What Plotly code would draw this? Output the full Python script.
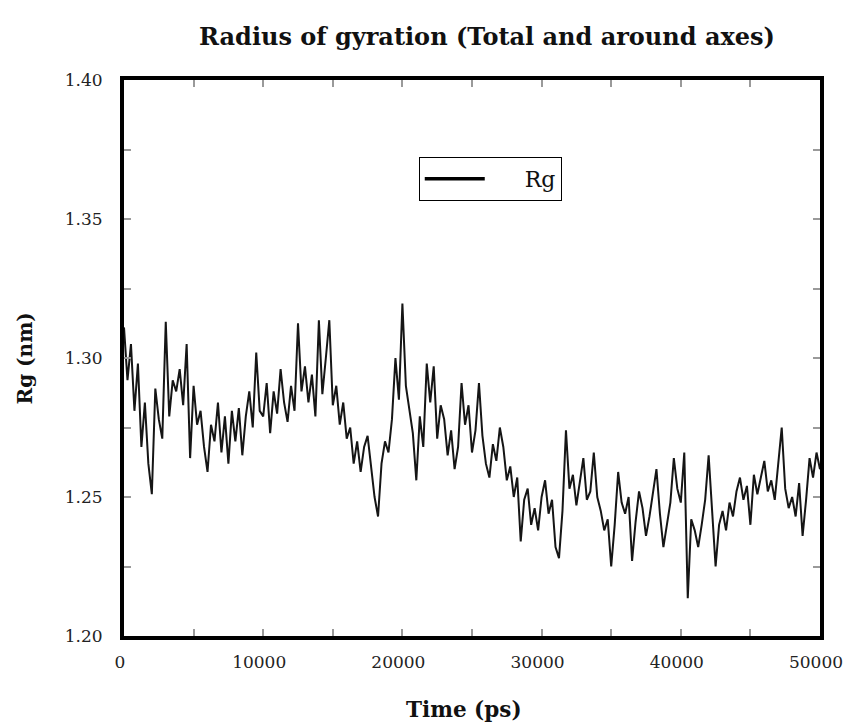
import plotly.graph_objects as go

t_step_ps = 250
rg_nm = [
    1.311, 1.292, 1.305, 1.281, 1.298, 1.268, 1.284, 1.262,
    1.251, 1.289, 1.278, 1.271, 1.313, 1.279, 1.292, 1.288,
    1.296, 1.283, 1.305, 1.264, 1.290, 1.276, 1.281, 1.268,
    1.259, 1.276, 1.270, 1.284, 1.266, 1.279, 1.262, 1.281,
    1.270, 1.282, 1.265, 1.279, 1.288, 1.275, 1.302, 1.281,
    1.279, 1.291, 1.273, 1.288, 1.280, 1.296, 1.284, 1.277,
    1.290, 1.281, 1.3125, 1.288, 1.297, 1.284, 1.294, 1.279,
    1.3136, 1.287, 1.300, 1.3136, 1.283, 1.290, 1.276, 1.284,
    1.271, 1.275, 1.262, 1.270, 1.259, 1.268, 1.272, 1.261,
    1.250, 1.243, 1.262, 1.270, 1.266, 1.278, 1.300, 1.285,
    1.3196, 1.290, 1.281, 1.273, 1.256, 1.279, 1.268, 1.298,
    1.284, 1.297, 1.271, 1.283, 1.278, 1.265, 1.274, 1.260,
    1.268, 1.291, 1.276, 1.283, 1.266, 1.274, 1.291, 1.272,
    1.262, 1.257, 1.269, 1.263, 1.275, 1.268, 1.256, 1.261,
    1.250, 1.257, 1.234, 1.249, 1.253, 1.240, 1.246, 1.238,
    1.250, 1.256, 1.244, 1.249, 1.232, 1.228, 1.245, 1.274,
    1.253, 1.258, 1.247, 1.256, 1.264, 1.249, 1.252, 1.266,
    1.250, 1.245, 1.238, 1.242, 1.225, 1.240, 1.259, 1.248,
    1.244, 1.250, 1.227, 1.241, 1.252, 1.246, 1.236, 1.243,
    1.251, 1.260, 1.244, 1.232, 1.240, 1.248, 1.264, 1.253,
    1.248, 1.266, 1.2136, 1.242, 1.238, 1.232, 1.240, 1.249,
    1.265, 1.244, 1.225, 1.240, 1.245, 1.238, 1.248, 1.243,
    1.252, 1.257, 1.249, 1.254, 1.240, 1.258, 1.251, 1.257,
    1.263, 1.252, 1.256, 1.249, 1.261, 1.275, 1.253, 1.246,
    1.250, 1.243, 1.255, 1.236, 1.249, 1.264, 1.257, 1.266,
    1.260,
]
time_ps = [i * t_step_ps for i in range(len(rg_nm))]

x_ticks = [0, 10000, 20000, 30000, 40000, 50000]
y_ticks = [1.20, 1.25, 1.30, 1.35, 1.40]

FONT = "DejaVu Serif"
TICKC = "#9a9a9a"

fig = go.Figure()
fig.add_trace(go.Scatter(
    x=time_ps, y=rg_nm, mode="lines", showlegend=False,
    line=dict(color="#151515", width=2),
))
# legend entry (thicker sample line, as in the reference)
fig.add_trace(go.Scatter(
    x=[None], y=[None], mode="lines", name="     Rg",
    line=dict(color="black", width=3.5),
))

axis_common = dict(
    showline=True, linecolor="black", linewidth=4, mirror="allticks",
    ticks="inside", ticklen=7, tickwidth=2, tickcolor=TICKC,
    showgrid=False, zeroline=False,
    tickfont=dict(family=FONT, size=17, color="#222"),
)

fig.update_xaxes(
    range=[0, 50000], tickvals=x_ticks, ticktext=[str(v) for v in x_ticks],
    minor=dict(dtick=5000, ticks="inside", ticklen=7, tickwidth=2, tickcolor=TICKC),
    ticklabelstandoff=8, ticklabeloverflow="allow", ticklabelshift=-4,
    **axis_common,
)
fig.update_yaxes(
    range=[1.20, 1.40], tickvals=y_ticks, ticktext=[f"{v:.2f}" for v in y_ticks],
    minor=dict(dtick=0.025, ticks="inside", ticklen=7, tickwidth=2, tickcolor=TICKC),
    ticklabelstandoff=14,
    **axis_common,
)

fig.add_annotation(text="<b>Rg (nm)</b>", xref="paper", yref="paper",
                   x=-0.1416, y=0.5, textangle=-90, showarrow=False,
                   xanchor="center", yanchor="middle",
                   font=dict(family=FONT, size=20, color="#111"))
fig.add_annotation(text="<b>Time (ps)</b>", xref="paper", yref="paper",
                   x=0.488, y=-0.1330, showarrow=False,
                   xanchor="center", yanchor="middle",
                   font=dict(family=FONT, size=21.5, color="#111"))

fig.update_layout(
    width=847, height=720,
    margin=dict(l=116, r=32, t=72, b=92),
    paper_bgcolor="white", plot_bgcolor="white",
    title=dict(text="<b>Radius of gyration (Total and around axes)</b>",
               x=0.5655, xanchor="center", y=0.96, yanchor="middle",
               font=dict(family=FONT, size=24, color="#111")),
    showlegend=True,
    legend=dict(x=0.4235, y=0.8615, xanchor="left", yanchor="top",
                bordercolor="black", borderwidth=1, bgcolor="white",
                font=dict(family=FONT, size=22, color="#111"),
                itemwidth=60),
)

fig.write_html("out.html")
